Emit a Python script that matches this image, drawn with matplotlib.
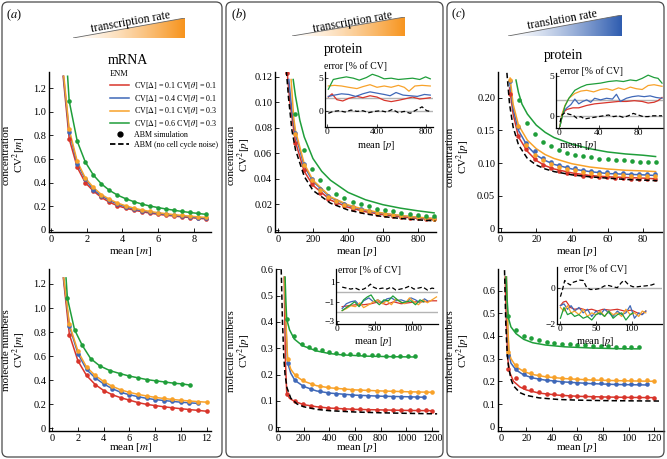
import numpy as np
import matplotlib
matplotlib.use('Agg')
from matplotlib import pyplot as plt
from matplotlib.patches import FancyBboxPatch, Polygon
from matplotlib.colors import LinearSegmentedColormap
from matplotlib.lines import Line2D

plt.rcParams['font.family'] = ['Liberation Serif', 'DejaVu Serif']
plt.rcParams['mathtext.fontset'] = 'stix'

RED, BLUE, ORANGE, GREEN = '#d8352b', '#3f68b8', '#f8a22a', '#1f9e3a'
W, H = 667, 459

# ---------------- (a) mRNA, concentration ----------------
a_top_x = [1.02, 1.47, 1.92, 2.37, 2.82, 3.27, 3.72, 4.17, 4.62, 5.07, 5.52, 5.97, 6.42, 6.87, 7.32, 7.77, 8.22, 8.67]
a_top_red = [0.77, 0.53, 0.40, 0.33, 0.275, 0.235, 0.205, 0.185, 0.168, 0.155, 0.143, 0.133, 0.125, 0.118, 0.111, 0.105, 0.099, 0.094]
a_top_blue = [0.83, 0.56, 0.43, 0.34, 0.29, 0.25, 0.22, 0.197, 0.178, 0.163, 0.151, 0.141, 0.132, 0.124, 0.117, 0.111, 0.105, 0.10]
a_top_orange = [0.85, 0.58, 0.44, 0.36, 0.30, 0.26, 0.228, 0.205, 0.186, 0.17, 0.157, 0.147, 0.138, 0.13, 0.123, 0.117, 0.111, 0.106]
a_top_green = [1.09, 0.75, 0.575, 0.465, 0.39, 0.335, 0.295, 0.265, 0.24, 0.22, 0.203, 0.19, 0.178, 0.167, 0.157, 0.148, 0.14, 0.132]
a_top_start = {'red': (0.68, 1.30), 'blue': (0.70, 1.30), 'orange': (0.72, 1.30), 'green': (0.93, 1.30)}

# ---------------- (a) mRNA, molecule numbers ----------------
a_bot_x = [1.35, 2.02, 2.68, 3.35, 4.01, 4.68, 5.34, 6.01, 6.67, 7.34, 8.0, 8.67, 9.33, 10.0, 10.66, 11.33, 11.99]
a_bot_red = [0.78, 0.56, 0.44, 0.365, 0.315, 0.28, 0.255, 0.235, 0.215, 0.2, 0.19, 0.18, 0.172, 0.164, 0.157, 0.15, 0.143]
a_bot_orange = [0.865, 0.64, 0.51, 0.44, 0.39, 0.35, 0.32, 0.30, 0.283, 0.27, 0.258, 0.249, 0.241, 0.234, 0.228, 0.223, 0.218]
a_bot_blue = [0.85, 0.62, 0.49, 0.42, 0.37, 0.33, 0.30, 0.28, 0.264, 0.25, 0.24, 0.232, 0.225, 0.218, 0.213, 0.208]
a_bot_green_x = [1.2, 1.75, 2.35, 3.0, 3.7, 4.5, 5.3, 6.0, 6.7, 7.4, 8.1, 8.8, 9.5, 10.1, 10.7]
a_bot_green = [1.08, 0.82, 0.69, 0.58, 0.52, 0.48, 0.455, 0.435, 0.42, 0.405, 0.395, 0.385, 0.375, 0.37, 0.36]
a_bot_start = {'red': (0.88, 1.25), 'blue': (0.90, 1.25), 'orange': (0.92, 1.25), 'green': (1.09, 1.25)}

# ---------------- (b) transcription, concentration ----------------
b_top_red_x = [53, 100, 146, 193, 239, 286, 333, 379, 426, 472, 519, 566, 612, 659, 705, 752, 799, 845, 892]
b_top_red = [0.123, 0.068, 0.047, 0.036, 0.029, 0.0245, 0.021, 0.0185, 0.0165, 0.015, 0.0137, 0.0126, 0.0117, 0.011, 0.0103, 0.0097, 0.0092, 0.0088, 0.0084]
b_top_x = b_top_red_x[1:]
b_top_orange = [0.075, 0.051, 0.039, 0.031, 0.026, 0.0225, 0.0198, 0.0177, 0.016, 0.0146, 0.0134, 0.0124, 0.0116, 0.0109, 0.0103, 0.0098, 0.0093, 0.0089]
b_top_blue = [0.076, 0.052, 0.04, 0.032, 0.0268, 0.023, 0.0202, 0.018, 0.0162, 0.0148, 0.0136, 0.0126, 0.0118, 0.0111, 0.0105, 0.01, 0.0095, 0.0091]
b_top_green = [0.091, 0.063, 0.048, 0.039, 0.0328, 0.0285, 0.025, 0.022, 0.0203, 0.0185, 0.0168, 0.0155, 0.0145, 0.0135, 0.0127, 0.0119, 0.0113, 0.0107]
b_top_line_red = ([53, 70, 100, 150, 200, 300, 400, 500, 600, 700, 800, 892],
                  [0.123, 0.098, 0.069, 0.046, 0.035, 0.0235, 0.0178, 0.0143, 0.012, 0.0103, 0.0091, 0.0082])
b_top_line_blue = ([62, 80, 100, 150, 200, 300, 400, 500, 600, 700, 800, 892],
                   [0.118, 0.093, 0.075, 0.05, 0.038, 0.0255, 0.0192, 0.0154, 0.0129, 0.0111, 0.0098, 0.0088])
b_top_line_orange = ([75, 90, 100, 150, 200, 300, 400, 500, 600, 700, 800, 892],
                     [0.118, 0.088, 0.078, 0.052, 0.039, 0.026, 0.0197, 0.0158, 0.0132, 0.0114, 0.01, 0.009])
b_top_line_green = ([87, 100, 125, 150, 200, 250, 300, 400, 500, 600, 700, 800, 892],
                    [0.118, 0.105, 0.086, 0.073, 0.056, 0.046, 0.039, 0.0295, 0.0237, 0.0198, 0.0171, 0.015, 0.0134])
b_top_dashed = ([48, 60, 80, 100, 150, 200, 300, 400, 500, 600, 700, 800, 900],
                [0.125, 0.104, 0.078, 0.063, 0.042, 0.031, 0.021, 0.0157, 0.0126, 0.0105, 0.009, 0.0079, 0.0071])

# inset: error [% of CV]
bti_green = ([8, 48, 96, 154, 211, 259, 317, 365, 413, 461, 518, 576, 634, 691, 749, 797, 835],
             [3.3, 4.8, 5.0, 5.2, 5.0, 4.7, 5.1, 5.6, 5.3, 4.9, 5.0, 4.8, 4.9, 5.0, 4.8, 5.2, 4.9])
bti_orange = ([8, 58, 115, 173, 240, 288, 346, 403, 461, 518, 576, 624, 662, 710, 768, 835],
              [3.8, 3.9, 3.8, 3.6, 3.4, 3.7, 4.0, 3.6, 3.8, 3.6, 3.9, 3.6, 3.0, 3.8, 3.9, 3.8])
bti_blue = ([8, 58, 115, 173, 230, 288, 346, 403, 461, 509, 557, 614, 672, 730, 787, 835],
            [2.2, 2.4, 2.6, 2.5, 2.2, 2.6, 2.9, 2.7, 2.5, 2.3, 2.8, 2.4, 2.3, 2.2, 2.5, 2.4])
bti_red = ([8, 38, 77, 125, 173, 240, 288, 346, 403, 461, 518, 576, 624, 691, 749, 797, 835],
           [2.1, 2.6, 1.7, 1.5, 1.9, 2.2, 2.0, 2.3, 2.1, 1.6, 1.4, 1.6, 1.8, 2.1, 1.8, 1.9, 2.0])
bti_black = ([8, 48, 96, 144, 192, 240, 288, 336, 384, 432, 480, 528, 576, 624, 672, 730, 768, 806, 835],
             [-0.4, -0.1, 0.0, -0.2, 0.1, -0.1, 0.0, -0.3, -0.1, 0.0, -0.2, 0.2, -0.3, -0.1, -0.4, 0.2, 0.6, 0.0, -0.1])

# ---------------- (b) transcription, molecule numbers ----------------
b_bot_green_x = [68, 127, 190, 240, 290, 345, 400, 450, 510, 565, 620, 670, 730, 780, 840, 900, 950, 1010, 1068]
b_bot_green = [0.41, 0.345, 0.315, 0.305, 0.298, 0.292, 0.287, 0.283, 0.28, 0.278, 0.277, 0.275, 0.274, 0.273, 0.272, 0.271, 0.27, 0.27, 0.269]
b_bot_orange_x = [75, 138, 198, 262, 325, 390, 450, 515, 580, 640, 705, 770, 835, 900, 960, 1025, 1090, 1150, 1198]
b_bot_orange = [0.26, 0.2, 0.178, 0.165, 0.157, 0.152, 0.148, 0.145, 0.143, 0.141, 0.14, 0.139, 0.138, 0.137, 0.136, 0.135, 0.135, 0.134, 0.134]
b_bot_blue_x = [75, 132, 198, 260, 325, 390, 450, 515, 580, 640, 705, 770, 835, 900, 960, 1025, 1085, 1140]
b_bot_blue = [0.245, 0.18, 0.158, 0.145, 0.137, 0.131, 0.127, 0.124, 0.122, 0.12, 0.119, 0.118, 0.117, 0.116, 0.116, 0.115, 0.115, 0.114]
b_bot_red_x = [68, 130, 195, 260, 325, 390, 450, 515, 580, 640, 705, 770, 835, 900, 960, 1025, 1090, 1150, 1198]
b_bot_red = [0.125, 0.1, 0.088, 0.081, 0.077, 0.074, 0.072, 0.07, 0.069, 0.068, 0.067, 0.066, 0.066, 0.065, 0.065, 0.064, 0.064, 0.064, 0.063]
b_bot_line_green = ([55, 62, 68, 90, 127, 190, 300, 400, 500, 700, 900, 1068],
                    [0.57, 0.47, 0.41, 0.37, 0.335, 0.31, 0.29, 0.28, 0.275, 0.27, 0.268, 0.267])
b_bot_line_orange = ([50, 62, 75, 100, 138, 200, 300, 400, 600, 800, 1000, 1198],
                     [0.57, 0.40, 0.26, 0.22, 0.195, 0.175, 0.158, 0.15, 0.142, 0.138, 0.135, 0.133])
b_bot_line_blue = ([52, 62, 75, 100, 132, 200, 300, 400, 600, 800, 1000, 1140],
                   [0.57, 0.38, 0.245, 0.205, 0.178, 0.155, 0.138, 0.13, 0.122, 0.118, 0.116, 0.114])
b_bot_line_red = ([48, 58, 68, 90, 130, 200, 300, 400, 600, 800, 1000, 1198],
                  [0.57, 0.25, 0.13, 0.11, 0.098, 0.086, 0.078, 0.073, 0.068, 0.066, 0.064, 0.063])
b_bot_dashed = ([25, 35, 45, 55, 70, 100, 150, 200, 300, 400, 600, 800, 1000, 1240],
                [0.6, 0.4, 0.27, 0.2, 0.15, 0.11, 0.088, 0.078, 0.068, 0.063, 0.058, 0.055, 0.053, 0.051])

bbi_black = ([65, 120, 180, 240, 300, 350, 400, 440, 480, 540, 600, 660, 720, 780, 840, 900, 960, 1020, 1080, 1140, 1200, 1260, 1320],
             [0.5, 0.4, 0.3, 0.4, 0.2, 0.3, 0.5, 0.8, 0.5, 0.3, 0.4, 0.3, 0.5, 0.2, 0.3, 0.4, 0.6, 0.3, 0.4, 0.5, 0.2, 0.4, 0.3])
bbi_red = ([65, 150, 250, 350, 450, 550, 650, 750, 850, 950, 1050, 1150, 1250, 1320],
           [-1.5, -1.4, -1.3, -1.3, -1.2, -1.0, -1.3, -1.0, -1.2, -1.1, -1.0, -1.0, -0.9, -0.9])
bbi_green = ([65, 120, 180, 230, 290, 350, 400, 450, 500, 560, 620, 680, 740, 800, 860, 920, 980, 1040, 1100, 1150],
             [-1.9, -1.6, -1.3, -1.0, -1.5, -0.8, -0.5, -0.3, -0.9, -1.3, -0.8, -0.9, -0.4, -0.8, -1.1, -1.0, -0.9, -1.3, -0.8, -1.0])
bbi_blue = ([65, 120, 180, 240, 300, 350, 420, 480, 540, 600, 660, 720, 780, 850, 920, 980, 1040, 1100, 1160, 1200],
            [-1.7, -1.2, -1.0, -0.9, -1.4, -0.9, -0.6, -1.0, -0.8, -1.1, -0.7, -0.6, -0.9, -0.8, -1.0, -0.6, -0.8, -1.1, -0.7, -0.9])
bbi_orange = ([65, 120, 180, 240, 300, 350, 420, 480, 540, 600, 660, 720, 780, 840, 900, 960, 1020, 1080, 1140, 1200, 1260, 1320],
              [-1.9, -1.7, -1.4, -1.5, -1.1, -1.6, -1.3, -1.0, -0.8, -1.2, -0.9, -1.3, -0.7, -1.0, -1.2, -0.6, -1.0, -1.3, -0.8, -1.1, -0.8, -0.5])

# ---------------- (c) translation, concentration ----------------
c_top_x = [5.5, 10.0, 14.5, 19.0, 23.5, 28.0, 32.5, 37.0, 41.5, 46.0, 50.5, 55.0, 59.5, 64.0, 68.5, 73.0, 77.5, 82.0, 86.5]
c_top_red = [0.205, 0.141, 0.121, 0.106, 0.097, 0.092, 0.088, 0.085, 0.083, 0.081, 0.08, 0.079, 0.078, 0.077, 0.077, 0.076, 0.076, 0.075, 0.075]
c_top_orange = [0.227, 0.157, 0.128, 0.113, 0.104, 0.098, 0.094, 0.091, 0.089, 0.087, 0.085, 0.084, 0.083, 0.082, 0.082, 0.081, 0.081, 0.08, 0.08]
c_top_blue = [0.225, 0.155, 0.13, 0.118, 0.108, 0.102, 0.097, 0.094, 0.092, 0.09, 0.088, 0.087, 0.086, 0.085, 0.085, 0.084, 0.084, 0.083, 0.083]
c_top_green_x = [10.5, 15.0, 19.5, 24.0, 28.5, 33.0, 37.5, 42.0, 46.5, 51.0, 55.5, 60.0, 64.5, 69.0, 73.5, 78.0, 82.5, 87.0]
c_top_green = [0.197, 0.162, 0.145, 0.133, 0.126, 0.12, 0.116, 0.113, 0.111, 0.109, 0.107, 0.106, 0.105, 0.104, 0.103, 0.102, 0.102, 0.101]
c_top_line_x = [5.0, 7, 10, 15, 20, 25, 30, 40, 50, 60, 70, 80, 87]
c_top_line_red = [0.215, 0.175, 0.14, 0.118, 0.104, 0.096, 0.091, 0.085, 0.081, 0.079, 0.078, 0.077, 0.076]
c_top_line_blue = [0.225, 0.183, 0.15, 0.126, 0.112, 0.104, 0.098, 0.091, 0.087, 0.084, 0.083, 0.082, 0.081]
c_top_line_orange = ([5.3, 7, 10, 15, 20, 25, 30, 40, 50, 60, 70, 80, 87],
                     [0.23, 0.19, 0.158, 0.135, 0.122, 0.113, 0.107, 0.099, 0.094, 0.091, 0.089, 0.088, 0.087])
c_top_line_green = ([8.6, 10, 12, 15, 20, 25, 30, 40, 50, 60, 70, 80, 87],
                    [0.227, 0.208, 0.19, 0.175, 0.158, 0.147, 0.139, 0.129, 0.122, 0.117, 0.114, 0.112, 0.11])
c_top_dashed = ([3.5, 5, 7, 10, 15, 20, 25, 30, 40, 50, 60, 70, 80, 88],
                [0.238, 0.19, 0.155, 0.128, 0.107, 0.097, 0.091, 0.087, 0.082, 0.079, 0.077, 0.075, 0.074, 0.073])

cti_green = ([1, 3, 6, 10, 16, 22, 28, 35, 42, 50, 58, 65, 72, 78, 84, 90, 96, 100, 104],
             [-1.3, -0.2, 1.2, 2.2, 3.2, 3.6, 3.9, 4.0, 4.1, 4.3, 4.4, 4.3, 4.5, 4.4, 4.7, 5.1, 4.8, 4.7, 4.1])
cti_orange = ([1, 3, 6, 10, 16, 22, 28, 35, 42, 48, 54, 60, 66, 72, 78, 84, 90, 96, 104],
              [-1.3, 0.2, 1.3, 2.2, 2.8, 3.1, 3.2, 3.0, 3.3, 3.4, 3.2, 3.5, 3.3, 3.6, 3.4, 3.3, 3.8, 3.9, 3.7])
cti_blue = ([1, 4, 8, 12, 16, 20, 24, 28, 32, 36, 42, 48, 54, 58, 62, 68, 74, 80, 86, 92, 98, 104],
            [-1.3, 0.5, 1.0, 1.4, 2.1, 1.5, 1.8, 2.0, 1.7, 2.2, 2.0, 2.2, 2.1, 2.7, 1.8, 2.2, 2.4, 2.5, 2.4, 2.5, 2.3, 2.2])
cti_red = ([1, 4, 8, 14, 20, 28, 36, 44, 52, 60, 68, 76, 84, 90, 96, 100, 104],
           [-1.3, 0.4, 0.8, 1.0, 1.0, 1.3, 1.5, 1.6, 1.7, 1.8, 1.8, 1.9, 1.8, 1.6, 1.7, 1.9, 2.3])
cti_black = ([1, 3, 6, 10, 14, 18, 22, 26, 30, 35, 40, 45, 50, 55, 60, 65, 70, 75, 80, 85, 90, 95, 100, 104],
             [-0.8, 0.1, 0.4, 0.2, 0.1, -0.3, -0.1, -0.4, -0.3, -0.2, -0.1, 0.0, 0.1, -0.1, 0.0, -0.2, 0.0, 0.3, 0.1, -0.1, -0.1, 0.0, 0.0, 0.0])

# ---------------- (c) translation, molecule numbers ----------------
c_bot_x = [6, 12, 18, 24, 30, 36, 42, 48, 54, 60, 66, 72, 78, 84, 90, 96, 102, 108, 114, 120]
c_bot_green = [0.49, 0.426, 0.4, 0.39, 0.382, 0.375, 0.37, 0.366, 0.363, 0.36, 0.358, 0.356, 0.355, 0.354, 0.353, 0.352, 0.351, 0.35]
c_bot_orange = [0.33, 0.272, 0.25, 0.237, 0.229, 0.223, 0.219, 0.216, 0.214, 0.212, 0.21, 0.209, 0.208, 0.207, 0.206, 0.205, 0.205, 0.204, 0.204, 0.203]
c_bot_blue = [0.315, 0.255, 0.232, 0.219, 0.211, 0.205, 0.201, 0.198, 0.196, 0.194, 0.193, 0.192, 0.191, 0.19, 0.19, 0.189, 0.189, 0.188, 0.188]
c_bot_red = [0.255, 0.215, 0.175, 0.16, 0.152, 0.146, 0.142, 0.139, 0.137, 0.135, 0.134, 0.133, 0.132, 0.131, 0.131, 0.13, 0.13, 0.129, 0.129, 0.128]
c_bot_line_green = ([4.2, 5, 6, 8, 12, 18, 25, 35, 50, 70, 90, 107],
                    [0.66, 0.56, 0.48, 0.44, 0.41, 0.385, 0.37, 0.36, 0.352, 0.347, 0.344, 0.343])
c_bot_line_orange = ([4.5, 5.5, 6.5, 8, 12, 18, 25, 35, 50, 70, 90, 120],
                     [0.66, 0.45, 0.33, 0.3, 0.265, 0.243, 0.23, 0.22, 0.212, 0.206, 0.203, 0.2])
c_bot_line_blue = ([4.5, 5.5, 6.5, 8, 12, 18, 25, 35, 50, 70, 90, 113],
                   [0.66, 0.42, 0.32, 0.28, 0.25, 0.228, 0.215, 0.205, 0.197, 0.19, 0.186, 0.184])
c_bot_line_red = ([3.5, 4.5, 5.5, 7, 10, 15, 20, 30, 45, 60, 80, 100, 120],
                  [0.66, 0.45, 0.3, 0.24, 0.2, 0.175, 0.162, 0.148, 0.139, 0.134, 0.131, 0.129, 0.128])
c_bot_dashed = ([3, 4, 5, 6, 8, 10, 15, 20, 30, 45, 60, 80, 100, 125],
                [0.69, 0.45, 0.33, 0.27, 0.21, 0.18, 0.15, 0.138, 0.127, 0.12, 0.117, 0.115, 0.114, 0.113])

cbi_black = ([0, 3, 6, 10, 14, 18, 22, 27, 32, 37, 42, 48, 55, 62, 68, 74, 80, 86, 90, 96, 102, 108, 114, 120, 128, 135],
             [-0.5, -0.1, 0.4, 0.25, 0.15, 0.3, 0.35, 0.42, 0.4, 0.0, -0.1, -0.1, -0.05, 0.1, 0.12, 0.05, 0.0, 0.3, 0.4, 0.15, 0.05, 0.05, 0.08, 0.1, 0.15, 0.25])
cbi_red = ([0, 4, 8, 14, 20, 28, 36, 44, 52, 60, 70, 80, 90, 100, 108, 114, 120],
           [-1.0, -0.8, -0.75, -1.1, -1.2, -1.15, -1.25, -1.2, -1.3, -1.2, -1.25, -1.2, -1.3, -1.25, -1.4, -1.5, -1.3])
cbi_blue = ([0, 5, 10, 15, 20, 26, 32, 38, 44, 50, 56, 62, 68, 74, 80, 86, 92, 98, 104, 110, 115, 120],
            [-1.0, -0.9, -1.2, -1.0, -1.3, -1.1, -1.4, -1.2, -1.6, -1.3, -1.5, -1.2, -1.4, -1.6, -1.3, -1.5, -1.4, -1.0, -1.7, -1.4, -1.5, -1.3])
cbi_orange = ([0, 5, 10, 15, 20, 26, 32, 38, 44, 50, 56, 62, 68, 74, 80, 86, 92, 98, 104, 110, 115, 120],
              [-1.1, -1.3, -1.0, -1.4, -1.3, -1.5, -1.2, -1.6, -1.4, -1.5, -1.3, -1.6, -1.3, -1.5, -1.4, -1.6, -1.2, -1.5, -1.4, -1.6, -1.3, -1.4])
cbi_green = ([0, 5, 10, 15, 20, 26, 32, 38, 44, 50, 56, 62, 68, 74, 80, 86, 92, 98, 102],
             [-1.7, -1.1, -1.5, -1.4, -1.6, -1.5, -1.7, -1.6, -1.8, -1.5, -1.4, -1.6, -1.3, -1.7, -1.5, -1.4, -1.8, -1.5, -1.4])

legend_labels = [r'CV[$\Delta$] = 0.1 CV[$\theta$] = 0.1', r'CV[$\Delta$] = 0.4 CV[$\theta$] = 0.1',
                 r'CV[$\Delta$] = 0.1 CV[$\theta$] = 0.3', r'CV[$\Delta$] = 0.6 CV[$\theta$] = 0.3',
                 'ABM simulation', 'ABM (no cell cycle noise)']


fig = plt.figure(figsize=(W / 100, H / 100), dpi=100)


def rect(x0, y0, x1, y1):
    # pixel box measured from the top-left corner -> figure fraction
    return [x0 / W, 1 - y1 / H, (x1 - x0) / W, (y1 - y0) / H]


def ftext(x, y, s, **kw):
    fig.text(x / W, 1 - y / H, s, **kw)


def main_axes(box, xlim, ylim, xticks, yticks, yticklabels):
    ax = fig.add_axes(rect(*box))
    ax.set_xlim(xlim)
    ax.set_ylim(ylim)
    ax.spines[['top', 'right']].set_visible(False)
    ax.spines[['left', 'bottom']].set_linewidth(1.0)
    ax.set_xticks(xticks)
    ax.set_yticks(yticks)
    ax.set_yticklabels(yticklabels)
    ax.tick_params(direction='in', length=3, width=0.6, labelsize=7.5, pad=2)
    ax.patch.set_alpha(0)
    return ax


def inset_axes(box, xlim, ylim, xticks, yticks, refs):
    ax = fig.add_axes(rect(*box))
    ax.set_xlim(xlim)
    ax.set_ylim(ylim)
    ax.spines[['top', 'right']].set_visible(False)
    ax.spines[['left', 'bottom']].set_linewidth(0.9)
    ax.set_xticks(xticks)
    ax.set_yticks(yticks)
    ax.tick_params(direction='in', length=2, width=0.5, labelsize=6.8, pad=1)
    ax.patch.set_alpha(0)
    for r in refs:
        ax.axhline(r, color='#b4b4b4', lw=1.0, zorder=1)
    return ax


def lines(ax, series, lw=1.1):
    for (x, y), c in series:
        ax.plot(x, y, color=c, lw=lw, zorder=2)


def dots(ax, series):
    for (x, y), c in series:
        ax.plot(x, y, 'o', color=c, ms=3.3, mec='none', zorder=3)


def dashed(ax, xy, lw=1.1):
    ax.plot(xy[0], xy[1], color='black', lw=lw, ls=(0, (3.5, 2)), zorder=4)


def gradient_triangle(box, color, label, tx, ty):
    tax = fig.add_axes(rect(*box))
    tax.set_axis_off()
    cmap = LinearSegmentedColormap.from_list('grad', ['white', color])
    im = tax.imshow(np.linspace(0, 1, 256)[None, :] ** 1.3, cmap=cmap, extent=[0, 1, 0, 1], aspect='auto')
    tri = Polygon([[0, 0], [1, 1], [1, 0]], closed=True, transform=tax.transData, facecolor='none', edgecolor='none')
    tax.add_patch(tri)
    im.set_clip_path(tri)
    tax.plot([0, 1], [0, 1], color='#666666', lw=0.6)
    tax.plot([0, 1], [0, 0], color='#666666', lw=0.6)
    tax.set_xlim(0, 1)
    tax.set_ylim(0, 1)
    ftext(tx, ty, label, fontsize=8.5, rotation=10, ha='center', va='center', rotation_mode='anchor')


# panel frames
for x0, x1 in [(2, 222), (226, 443), (447, 664)]:
    fig.patches.append(FancyBboxPatch((x0 / 100, 2 / 100), (x1 - x0) / 100, 455 / 100,
                                      boxstyle='round,pad=0,rounding_size=0.06',
                                      transform=fig.dpi_scale_trans, facecolor='none',
                                      edgecolor='#4a4a4a', lw=0.9))

# ---- (a) ----
ax = main_axes((49, 72, 211, 232), (-0.11, 8.95), (-0.017, 1.336), [0, 2, 4, 6, 8],
               [0, 0.2, 0.4, 0.6, 0.8, 1.0, 1.2], ['0', '0.2', '0.4', '0.6', '0.8', '1.0', '1.2'])
for key, yv, c in [('red', a_top_red, RED), ('blue', a_top_blue, BLUE),
                   ('orange', a_top_orange, ORANGE), ('green', a_top_green, GREEN)]:
    sx, sy = a_top_start[key]
    ax.plot([sx] + a_top_x, [sy] + yv, color=c, lw=1.1, zorder=2)
    ax.plot(a_top_x, yv, 'o', color=c, ms=3.3, mec='none', zorder=3)
handles = [Line2D([], [], color=c, lw=1.1) for c in (RED, BLUE, ORANGE, GREEN)]
handles += [Line2D([], [], ls='none', marker='o', color='black', ms=3.5),
            Line2D([], [], color='black', lw=1.3, ls=(0, (3, 1.5)))]
leg = ax.legend(handles, legend_labels, title='ENM', loc='upper left',
                bbox_to_anchor=(106 / W, 1 - 66 / H), bbox_transform=fig.transFigure,
                frameon=False, fontsize=5.8, title_fontsize=6, handlelength=2.4,
                handletextpad=0.6, labelspacing=0.22, borderpad=0, alignment='left')
ftext(131, 251, 'mean [$m$]', fontsize=8, ha='center', va='center')
ftext(15, 155, 'concentration\nCV$^2$[$m$]', fontsize=8, rotation=90, ha='center', va='center', linespacing=1.0)
ftext(128, 60, 'mRNA', fontsize=10, ha='center', va='center')

ax = main_axes((49, 269, 211, 431), (-0.23, 12.33), (-0.021, 1.324), [0, 2, 4, 6, 8, 10, 12],
               [0, 0.2, 0.4, 0.6, 0.8, 1.0, 1.2], ['0', '0.2', '0.4', '0.6', '0.8', '1.0', '1.2'])
for key, xv, yv, c in [('red', a_bot_x, a_bot_red, RED), ('blue', a_bot_x[:len(a_bot_blue)], a_bot_blue, BLUE),
                       ('orange', a_bot_x, a_bot_orange, ORANGE), ('green', a_bot_green_x, a_bot_green, GREEN)]:
    sx, sy = a_bot_start[key]
    ax.plot([sx] + list(xv), [sy] + yv, color=c, lw=1.1, zorder=2)
    ax.plot(xv, yv, 'o', color=c, ms=3.3, mec='none', zorder=3)
ftext(131, 448, 'mean [$m$]', fontsize=8, ha='center', va='center')
ftext(15, 350, 'molecule numbers\nCV$^2$[$m$]', fontsize=8, rotation=90, ha='center', va='center', linespacing=1.0)

gradient_triangle((73, 18, 185, 38), '#f7941d', 'transcription rate', 131, 22)
ftext(6, 15, r'($a$)', fontsize=9, ha='left', va='center')

# ---- (b) ----
ax = main_axes((275, 72, 436, 232), (-17, 903), (-0.0016, 0.1239), [0, 200, 400, 600, 800],
               [0, 0.02, 0.04, 0.06, 0.08, 0.10, 0.12], ['0', '0.02', '0.04', '0.06', '0.08', '0.10', '0.12'])
lines(ax, [(b_top_line_red, RED), (b_top_line_blue, BLUE), (b_top_line_orange, ORANGE), (b_top_line_green, GREEN)])
dots(ax, [((b_top_red_x, b_top_red), RED), ((b_top_x, b_top_blue), BLUE),
          ((b_top_x, b_top_orange), ORANGE), ((b_top_x, b_top_green), GREEN)])
dashed(ax, b_top_dashed)
ftext(357, 251, 'mean [$p$]', fontsize=8, ha='center', va='center')
ftext(240, 155, 'concentration\nCV$^2$[$p$]', fontsize=8, rotation=90, ha='center', va='center', linespacing=1.0)

ax = inset_axes((325, 72, 433, 127), (-19, 857), (-2.5, 5.95), [0, 400, 800], [0, 5], [0, 2])
lines(ax, [(bti_red, RED), (bti_blue, BLUE), (bti_orange, ORANGE), (bti_green, GREEN)], lw=0.9)
dashed(ax, bti_black, lw=0.9)
ftext(343, 50, 'protein', fontsize=10, ha='center', va='center')
ftext(355, 66, 'error [% of CV]', fontsize=7, ha='center', va='center')
ftext(376, 145, 'mean [$p$]', fontsize=7.5, ha='center', va='center')

ax = main_axes((276, 269, 438, 431), (-15.6, 1247), (-0.0141, 0.601), [0, 200, 400, 600, 800, 1000, 1200],
               [0, 0.1, 0.2, 0.3, 0.4, 0.5, 0.6], ['0', '0.1', '0.2', '0.3', '0.4', '0.5', '0.6'])
lines(ax, [(b_bot_line_red, RED), (b_bot_line_blue, BLUE), (b_bot_line_orange, ORANGE), (b_bot_line_green, GREEN)])
dots(ax, [((b_bot_red_x, b_bot_red), RED), ((b_bot_blue_x, b_bot_blue), BLUE),
          ((b_bot_orange_x, b_bot_orange), ORANGE), ((b_bot_green_x, b_bot_green), GREEN)])
dashed(ax, b_bot_dashed)
ftext(357, 448, 'mean [$p$]', fontsize=8, ha='center', va='center')
ftext(240, 351, 'molecule numbers\nCV$^2$[$p$]', fontsize=8, rotation=90, ha='center', va='center', linespacing=1.0)

ax = inset_axes((336, 269, 438, 324), (-17, 1340), (-3.27, 2.35), [0, 500, 1000], [-3, -1, 1], [0, -2])
lines(ax, [(bbi_red, RED), (bbi_blue, BLUE), (bbi_orange, ORANGE), (bbi_green, GREEN)], lw=0.9)
dashed(ax, bbi_black, lw=0.9)
ftext(369, 270, 'error [% of CV]', fontsize=7, ha='center', va='center')
ftext(373, 341, 'mean [$p$]', fontsize=7.5, ha='center', va='center')

gradient_triangle((292, 17, 405, 36), '#f7941d', 'transcription rate', 353, 22)
ftext(231, 15, r'($b$)', fontsize=9, ha='left', va='center')

# ---- (c) ----
ax = main_axes((498, 72, 662, 232), (-1.5, 90.6), (-0.0054, 0.2393), [0, 20, 40, 60, 80],
               [0, 0.05, 0.10, 0.15, 0.20], ['0', '0.05', '0.10', '0.15', '0.20'])
lines(ax, [((c_top_line_x, c_top_line_red), RED), ((c_top_line_x, c_top_line_blue), BLUE),
           (c_top_line_orange, ORANGE), (c_top_line_green, GREEN)])
dots(ax, [((c_top_x, c_top_red), RED), ((c_top_x, c_top_blue), BLUE),
          ((c_top_x, c_top_orange), ORANGE), ((c_top_green_x, c_top_green), GREEN)])
dashed(ax, c_top_dashed)
ftext(577, 251, 'mean [$p$]', fontsize=8, ha='center', va='center')
ftext(459, 157, 'concentration\nCV$^2$[$p$]', fontsize=8, rotation=90, ha='center', va='center', linespacing=1.0)

ax = inset_axes((556, 73, 663, 128), (-3, 105), (-1.53, 5.37), [0, 40, 80], [0, 5], [0, 2])
lines(ax, [(cti_red, RED), (cti_blue, BLUE), (cti_orange, ORANGE), (cti_green, GREEN)], lw=0.9)
dashed(ax, cti_black, lw=0.9)
ftext(563, 55, 'protein', fontsize=10, ha='center', va='center')
ftext(591, 71, 'error [% of CV]', fontsize=7, ha='center', va='center')
ftext(578, 146, 'mean [$p$]', fontsize=7.5, ha='center', va='center')

ax = main_axes((498, 269, 664, 431), (-2.1, 127.6), (-0.019, 0.695), [0, 20, 40, 60, 80, 100, 120],
               [0, 0.1, 0.2, 0.3, 0.4, 0.5, 0.6], ['0', '0.1', '0.2', '0.3', '0.4', '0.5', '0.6'])
lines(ax, [(c_bot_line_red, RED), (c_bot_line_blue, BLUE), (c_bot_line_orange, ORANGE), (c_bot_line_green, GREEN)])
dots(ax, [((c_bot_x, c_bot_red), RED), ((c_bot_x[:len(c_bot_blue)], c_bot_blue), BLUE),
          ((c_bot_x, c_bot_orange), ORANGE), ((c_bot_x[:len(c_bot_green)], c_bot_green), GREEN)])
dashed(ax, c_bot_dashed)
ftext(577, 448, 'mean [$p$]', fontsize=8, ha='center', va='center')
ftext(459, 351, 'molecule numbers\nCV$^2$[$p$]', fontsize=8, rotation=90, ha='center', va='center', linespacing=1.0)

ax = inset_axes((557, 267, 662, 324), (-4.8, 142.7), (-2.02, 1.15), [0, 50, 100], [-2, 0], [0])
lines(ax, [(cbi_red, RED), (cbi_blue, BLUE), (cbi_orange, ORANGE), (cbi_green, GREEN)], lw=0.9)
dashed(ax, cbi_black, lw=0.9)
ftext(596, 269, 'error [% of CV]', fontsize=7, ha='center', va='center')
ftext(595, 341, 'mean [$p$]', fontsize=7.5, ha='center', va='center')

gradient_triangle((508, 15, 622, 36), '#2f5db0', 'translation rate', 562, 20)
ftext(451, 14, r'($c$)', fontsize=9, ha='left', va='center')

fig.savefig('out.png', dpi=100)
